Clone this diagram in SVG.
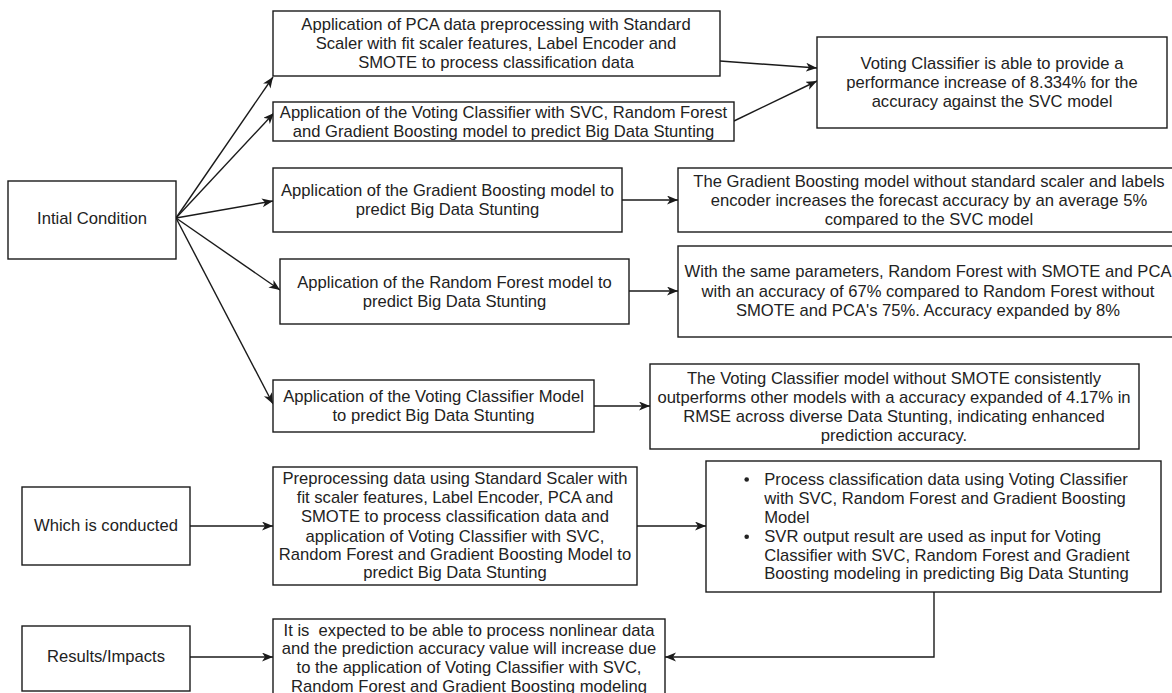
<svg xmlns="http://www.w3.org/2000/svg" width="1172" height="693" viewBox="0 0 1172 693">
<style>
.box{fill:#fff;stroke:#1a1a1a;stroke-width:1.4}
.t{font-family:"Liberation Sans",Arial,sans-serif;font-size:16.6px;fill:#222;text-anchor:middle}
.l{text-anchor:start}
.e{fill:none;stroke:#1a1a1a;stroke-width:1.4}
</style>
<defs>
<marker id="arr" markerUnits="userSpaceOnUse" markerWidth="12" markerHeight="10" refX="11" refY="4.5" orient="auto">
<path d="M0,0 L11,4.5 L0,9 L3,4.5 Z" fill="#1a1a1a"/>
</marker>
</defs>
<rect width="1172" height="693" fill="#fff"/>
<g id="connectors">
<line class="e" x1="176" y1="218" x2="273" y2="77" marker-end="url(#arr)"/>
<line class="e" x1="176" y1="218" x2="274" y2="113" marker-end="url(#arr)"/>
<line class="e" x1="176" y1="218" x2="273" y2="201" marker-end="url(#arr)"/>
<line class="e" x1="176" y1="218" x2="280" y2="290" marker-end="url(#arr)"/>
<line class="e" x1="176" y1="218" x2="273" y2="404" marker-end="url(#arr)"/>
<line class="e" x1="720" y1="61" x2="817" y2="68" marker-end="url(#arr)"/>
<line class="e" x1="734" y1="121" x2="817" y2="81" marker-end="url(#arr)"/>
<line class="e" x1="622" y1="200" x2="678" y2="200" marker-end="url(#arr)"/>
<line class="e" x1="629" y1="291" x2="678" y2="291" marker-end="url(#arr)"/>
<line class="e" x1="594" y1="406" x2="650" y2="406" marker-end="url(#arr)"/>
<line class="e" x1="190" y1="526" x2="273" y2="526" marker-end="url(#arr)"/>
<line class="e" x1="190" y1="657" x2="273" y2="657" marker-end="url(#arr)"/>
<line class="e" x1="637" y1="526" x2="706" y2="526" marker-end="url(#arr)"/>
<polyline class="e" points="934,592 934,657 665,657" marker-end="url(#arr)"/>
</g>
<g id="initial">
<rect class="box" x="8" y="181" width="168" height="78"/>
<text class="t" x="92" y="224">Intial Condition</text>
</g>
<g id="pca">
<rect class="box" x="273" y="11" width="447" height="65"/>
<text class="t" x="496" y="30">Application of PCA data preprocessing with Standard</text>
<text class="t" x="496" y="49">Scaler with fit scaler features, Label Encoder and</text>
<text class="t" x="496" y="68">SMOTE to process classification data</text>
</g>
<g id="vcsvc">
<rect class="box" x="273" y="102" width="461" height="39"/>
<text class="t" x="503.5" y="118">Application of the Voting Classifier with SVC, Random Forest</text>
<text class="t" x="503.5" y="137">and Gradient Boosting model to predict Big Data Stunting</text>
</g>
<g id="gbapp">
<rect class="box" x="273" y="168" width="349" height="64"/>
<text class="t" x="447.5" y="196">Application of the Gradient Boosting model to</text>
<text class="t" x="447.5" y="215">predict Big Data Stunting</text>
</g>
<g id="rfapp">
<rect class="box" x="280" y="259" width="349" height="65"/>
<text class="t" x="454.5" y="288">Application of the Random Forest model to</text>
<text class="t" x="454.5" y="307">predict Big Data Stunting</text>
</g>
<g id="vcapp">
<rect class="box" x="273" y="380" width="321" height="52"/>
<text class="t" x="433.5" y="402">Application of the Voting Classifier Model</text>
<text class="t" x="433.5" y="421">to predict Big Data Stunting</text>
</g>
<g id="res1">
<rect class="box" x="817" y="37" width="350" height="91"/>
<text class="t" x="992" y="69">Voting Classifier is able to provide a</text>
<text class="t" x="992" y="88">performance increase of 8.334% for the</text>
<text class="t" x="992" y="107">accuracy against the SVC model</text>
</g>
<g id="res2">
<rect class="box" x="678" y="168" width="502" height="64"/>
<text class="t" x="929" y="187">The Gradient Boosting model without standard scaler and labels</text>
<text class="t" x="929" y="205.5">encoder increases the forecast accuracy by an average 5%</text>
<text class="t" x="929" y="224.5">compared to the SVC model</text>
</g>
<g id="res3">
<rect class="box" x="678" y="246" width="502" height="91"/>
<text class="t" x="928" y="277">With the same parameters, Random Forest with SMOTE and PCA</text>
<text class="t" x="928" y="297">with an accuracy of 67% compared to Random Forest without</text>
<text class="t" x="928" y="316">SMOTE and PCA's 75%. Accuracy expanded by 8%</text>
</g>
<g id="res4">
<rect class="box" x="650" y="364" width="489" height="85"/>
<text class="t" x="894" y="384">The Voting Classifier model without SMOTE consistently</text>
<text class="t" x="894" y="403">outperforms other models with a accuracy expanded of 4.17% in</text>
<text class="t" x="894" y="421.7">RMSE across diverse Data Stunting, indicating enhanced</text>
<text class="t" x="894" y="440.7">prediction accuracy.</text>
</g>
<g id="which">
<rect class="box" x="22" y="487" width="168" height="78"/>
<text class="t" x="106" y="531">Which is conducted</text>
</g>
<g id="preproc">
<rect class="box" x="273" y="467" width="364" height="118"/>
<text class="t" x="455" y="484">Preprocessing data using Standard Scaler with</text>
<text class="t" x="455" y="503.3">fit scaler features, Label Encoder, PCA and</text>
<text class="t" x="455" y="521.7">SMOTE to process classification data and</text>
<text class="t" x="455" y="541.7">application of Voting Classifier with SVC,</text>
<text class="t" x="455" y="560">Random Forest and Gradient Boosting Model to</text>
<text class="t" x="455" y="578.3">predict Big Data Stunting</text>
</g>
<g id="bullets">
<rect class="box" x="706" y="461" width="455" height="131"/>
<circle cx="746.7" cy="479.5" r="2.3" fill="#222"/>
<circle cx="746.7" cy="536.8" r="2.3" fill="#222"/>
<text class="t l" x="764.3" y="485">Process classification data using Voting Classifier</text>
<text class="t l" x="764.3" y="504">with SVC, Random Forest and Gradient Boosting</text>
<text class="t l" x="764.3" y="523">Model</text>
<text class="t l" x="764.3" y="542.3">SVR output result are used as input for Voting</text>
<text class="t l" x="764.3" y="560.7">Classifier with SVC, Random Forest and Gradient</text>
<text class="t l" x="764.3" y="579">Boosting modeling in predicting Big Data Stunting</text>
</g>
<g id="results">
<rect class="box" x="22" y="626" width="168" height="65"/>
<text class="t" x="106" y="662">Results/Impacts</text>
</g>
<g id="expected">
<rect class="box" x="273" y="619" width="392" height="80"/>
<text class="t" x="469" y="635.7" style="white-space:pre">It is  expected to be able to process nonlinear data</text>
<text class="t" x="469" y="654">and the prediction accuracy value will increase due</text>
<text class="t" x="469" y="673">to the application of Voting Classifier with SVC,</text>
<text class="t" x="469" y="691.7">Random Forest and Gradient Boosting modeling</text>
</g>
</svg>
